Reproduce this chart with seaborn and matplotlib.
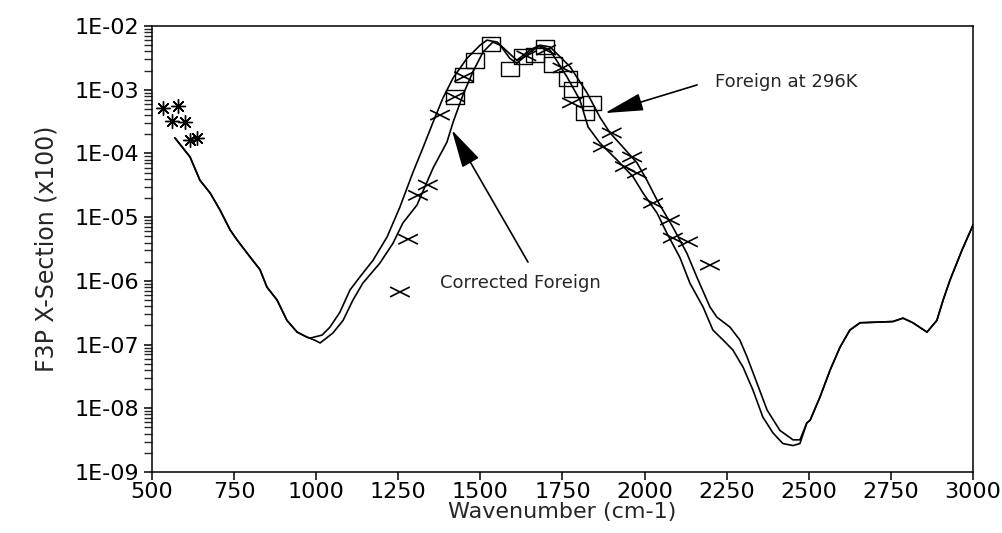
"""
F3P cross-section vs wavenumber: measured 'Foreign at 296K' and the
temperature 'Corrected Foreign' curves, with the band data points.
"""

import numpy as np
import pandas as pd
import matplotlib
matplotlib.use("Agg")
import matplotlib.pyplot as plt
from matplotlib.path import Path
from matplotlib.ticker import FuncFormatter, LogLocator, MultipleLocator, NullFormatter
import seaborn as sns

# shared low-wavenumber part of both curves
wn_left = [570, 616, 646, 677, 707, 738, 759, 798, 829, 850, 881, 911, 942, 972]
val_left = [1.75e-4, 8.8e-5, 3.8e-5, 2.4e-5, 1.3e-5, 6.3e-6, 4.4e-6, 2.4e-6,
            1.5e-6, 8.0e-7, 5.0e-7, 2.4e-7, 1.57e-7, 1.31e-7]

# shared high-wavenumber part
wn_right = [2494, 2504, 2534, 2565, 2595, 2625, 2656, 2708, 2756, 2787, 2817,
            2860, 2890, 2909, 2930, 2966, 3000]
val_right = [5.9e-9, 6.5e-9, 1.5e-8, 4.0e-8, 9.1e-8, 1.69e-7, 2.2e-7, 2.25e-7,
             2.3e-7, 2.6e-7, 2.2e-7, 1.57e-7, 2.4e-7, 5.0e-7, 1.03e-6, 3.0e-6, 7.5e-6]

# Foreign at 296K (broader band)
wn_foreign = [981, 1018, 1042, 1072, 1103, 1133, 1173, 1216, 1255, 1295, 1325,
              1356, 1386, 1417, 1459, 1499, 1520, 1551, 1599, 1611, 1651, 1681,
              1712, 1773, 1825, 1864, 1895, 1934, 1977, 2007, 2038, 2086, 2129,
              2159, 2199, 2220, 2260, 2290, 2312, 2342, 2373, 2412, 2452, 2473]
val_foreign = [1.26e-7, 1.41e-7, 1.88e-7, 3.2e-7, 7.2e-7, 1.15e-6, 2.1e-6, 4.9e-6,
               1.44e-5, 5.1e-5, 1.22e-4, 3.1e-4, 7.4e-4, 1.53e-3, 3.1e-3, 5.0e-3,
               6.0e-3, 5.6e-3, 3.3e-3, 2.9e-3, 4.2e-3, 5.0e-3, 4.7e-3, 2.3e-3,
               8.9e-4, 3.7e-4, 2.1e-4, 1.26e-4, 7.1e-5, 3.8e-5, 1.85e-5, 7.0e-6,
               2.7e-6, 1.15e-6, 3.9e-7, 2.7e-7, 1.88e-7, 1.18e-7, 6.4e-8, 2.5e-8,
               9.4e-9, 4.5e-9, 3.2e-9, 3.2e-9]

# Corrected Foreign (narrower band)
wn_corr = [996, 1012, 1051, 1082, 1112, 1142, 1194, 1234, 1264, 1307, 1356, 1398,
           1417, 1447, 1477, 1508, 1538, 1560, 1590, 1611, 1651, 1681, 1712, 1764,
           1803, 1828, 1864, 1916, 1965, 1995, 2038, 2068, 2108, 2138, 2178, 2208,
           2239, 2269, 2300, 2330, 2360, 2391, 2421, 2452, 2473]
val_corr = [1.17e-7, 1.06e-7, 1.52e-7, 2.4e-7, 5.0e-7, 9.2e-7, 1.9e-6, 3.9e-6,
            8.1e-6, 1.55e-5, 5.9e-5, 1.5e-4, 3.1e-4, 8.3e-4, 1.9e-3, 3.9e-3,
            5.6e-3, 5.0e-3, 3.1e-3, 2.6e-3, 3.9e-3, 4.9e-3, 4.2e-3, 1.58e-3,
            6.9e-4, 2.6e-4, 1.46e-4, 7.9e-5, 4.3e-5, 2.4e-5, 1.16e-5, 5.6e-6,
            2.3e-6, 9.2e-7, 3.9e-7, 1.69e-7, 1.18e-7, 8.2e-8, 4.4e-8, 1.93e-8,
            7.3e-9, 4.1e-9, 2.8e-9, 2.6e-9, 2.8e-9]

# data points
star_wn = [533, 579, 561, 600, 616, 637]
star_val = [5.2e-4, 5.5e-4, 3.2e-4, 3.1e-4, 1.62e-4, 1.75e-4]

cross_wn = [1255, 1280, 1310, 1340, 1377, 1423, 1450, 1640, 1700, 1750, 1779,
            1900, 1873, 1962, 1940, 1977, 2026, 2077, 2086, 2132, 2199]
cross_val = [6.7e-7, 4.5e-6, 2.2e-5, 3.2e-5, 4.0e-4, 7.7e-4, 1.6e-3, 3.4e-3,
             4.2e-3, 2.2e-3, 6.2e-4, 2.1e-4, 1.26e-4, 8.8e-5, 6.2e-5, 4.9e-5,
             1.66e-5, 9.0e-6, 4.7e-6, 4.1e-6, 1.77e-6]

square_wn = [1423, 1450, 1483, 1532, 1590, 1630, 1666, 1697, 1721, 1767, 1782,
             1840, 1818]
square_val = [7.7e-4, 1.7e-3, 2.9e-3, 5.2e-3, 2.1e-3, 3.3e-3, 3.5e-3, 4.7e-3,
              2.5e-3, 1.5e-3, 1.0e-3, 6.2e-4, 4.3e-4]

foreign = pd.DataFrame({"wn": wn_left + wn_foreign + wn_right,
                        "val": val_left + val_foreign + val_right})
corrected = pd.DataFrame({"wn": wn_left + wn_corr + wn_right,
                          "val": val_left + val_corr + val_right})

sns.set_style("ticks")
plt.rcParams["font.family"] = ["DejaVu Sans"]

fig = plt.figure(figsize=(10.03, 5.33), dpi=100)
ax = fig.add_axes([0.1515, 0.1144, 0.8186, 0.8368])
ax.set_yscale("log")

sns.lineplot(data=foreign, x="wn", y="val", color="black", linewidth=1.2,
             estimator=None, sort=False, ax=ax)
sns.lineplot(data=corrected, x="wn", y="val", color="black", linewidth=1.2,
             estimator=None, sort=False, ax=ax)

# flat X and slightly wide box like the scanned markers
flat_x = Path([(-1, -0.5), (1, 0.5), (-1, 0.5), (1, -0.5)],
              [Path.MOVETO, Path.LINETO, Path.MOVETO, Path.LINETO])
box = Path([(-0.62, -0.5), (0.62, -0.5), (0.62, 0.5), (-0.62, 0.5), (-0.62, -0.5)],
           [Path.MOVETO, Path.LINETO, Path.LINETO, Path.LINETO, Path.CLOSEPOLY])

sns.scatterplot(x=cross_wn, y=cross_val, marker=flat_x, s=200, facecolor="none",
                edgecolor="black", linewidth=1.2, ax=ax, zorder=3)
sns.scatterplot(x=square_wn, y=square_val, marker=box, s=170, facecolor="none",
                edgecolor="black", linewidth=1.0, ax=ax, zorder=3)
sns.scatterplot(x=star_wn, y=star_val, marker=(8, 2, 0), s=100, color="black",
                edgecolor="black", linewidth=1.0, ax=ax, zorder=3)

# labels with arrows
ax.text(2214, 1.32e-3, "Foreign at 296K", fontsize=13, ha="left", va="center")
ax.annotate("", xy=(1879, 4.3e-4), xytext=(2160, 1.19e-3),
            arrowprops=dict(arrowstyle="-|>,head_length=2.4,head_width=0.55",
                            mutation_scale=10, color="black", lw=1.2,
                            shrinkA=0, shrinkB=0))
ax.text(1377, 9.2e-7, "Corrected Foreign", fontsize=13, ha="left", va="center")
ax.annotate("", xy=(1413, 2.33e-4), xytext=(1645, 1.97e-6),
            arrowprops=dict(arrowstyle="-|>,head_length=2.4,head_width=0.6",
                            mutation_scale=10, color="black", lw=1.2,
                            shrinkA=0, shrinkB=0))

ax.set_xlim(500, 3000)
ax.set_ylim(1e-9, 1e-2)
ax.xaxis.set_major_locator(MultipleLocator(250))
ax.yaxis.set_major_locator(LogLocator(base=10, numticks=20))
ax.yaxis.set_minor_locator(LogLocator(base=10, subs=np.arange(2, 10), numticks=20))
ax.yaxis.set_minor_formatter(NullFormatter())
ax.yaxis.set_major_formatter(FuncFormatter(lambda v, _: f"{v:.0E}"))

for side in ["top", "right", "bottom", "left"]:
    ax.spines[side].set_visible(True)
    ax.spines[side].set_linewidth(1.1)
    ax.spines[side].set_color("black")
ax.tick_params(axis="both", which="major", direction="out", length=6, width=1.1,
               labelsize=16, colors="black", pad=3)
ax.tick_params(axis="x", which="major", pad=1)
ax.tick_params(axis="y", which="minor", direction="out", length=6, width=1.0)

ax.set_xlabel("Wavenumber (cm-1)", fontsize=16, labelpad=0)
ax.set_ylabel("F3P X-Section (x100)", fontsize=17, labelpad=12)

fig.savefig("out.png", dpi=100, facecolor="white")
